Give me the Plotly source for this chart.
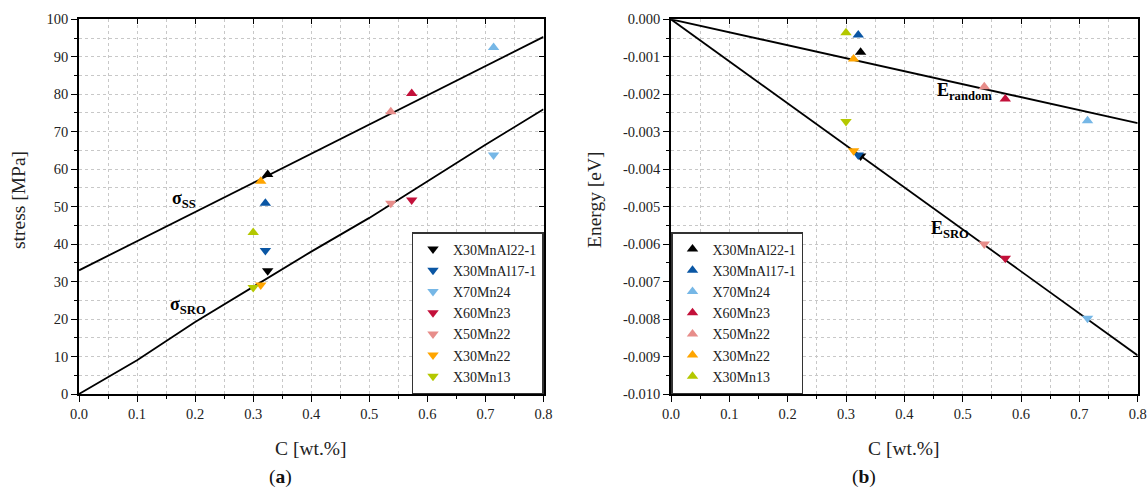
import plotly.graph_objects as go

# ---------------- data ----------------
steels = ["X30MnAl22-1", "X30MnAl17-1", "X70Mn24", "X60Mn23", "X50Mn22", "X30Mn22", "X30Mn13"]
colors = ["#000000", "#0a56a4", "#76b7e6", "#c3103a", "#e78d8a", "#ffa500", "#b4c800"]
carbon = [0.325, 0.321, 0.714, 0.573, 0.537, 0.313, 0.300]

stress_ss = [58.6, 50.9, 92.5, 80.2, 75.3, 56.8, 43.1]
stress_sro = [32.9, 38.3, 63.8, 51.8, 50.9, 29.1, 28.4]

energy_random = [-0.00088, -0.00042, -0.00271, -0.00213, -0.00180, -0.00106, -0.00036]
energy_sro = [-0.00365, -0.00362, -0.00798, -0.00638, -0.00600, -0.00351, -0.00273]

line_ss_x = [0.0, 0.8]
line_ss_y = [33.0, 95.3]
line_sro_x = [0.0, 0.1, 0.2, 0.3, 0.4, 0.5, 0.6, 0.7, 0.8]
line_sro_y = [0.0, 9.0, 19.2, 28.5, 38.0, 47.0, 56.8, 66.5, 76.0]

line_erand_x = [0.0, 0.8]
line_erand_y = [0.0, -0.00277]
line_esro_x = [0.0, 0.8]
line_esro_y = [0.0, -0.00897]

x_ticks = [0.0, 0.1, 0.2, 0.3, 0.4, 0.5, 0.6, 0.7, 0.8]
x_ticktext = ["0.0", "0.1", "0.2", "0.3", "0.4", "0.5", "0.6", "0.7", "0.8"]
stress_ticks = [0, 10, 20, 30, 40, 50, 60, 70, 80, 90, 100]
energy_ticks = [0.0, -0.001, -0.002, -0.003, -0.004, -0.005, -0.006, -0.007, -0.008, -0.009, -0.010]
energy_ticktext = ["0.000", "-0.001", "-0.002", "-0.003", "-0.004", "-0.005",
                   "-0.006", "-0.007", "-0.008", "-0.009", "-0.010"]

FONT = "Liberation Serif, Times New Roman, serif"
MSIZE = 10

W, H = 1148, 489


def px(x):
    return x / W


def py(y):
    return 1 - y / H


fig = go.Figure()

# ---------------- panel (a) ----------------
fig.add_trace(go.Scatter(x=line_ss_x, y=line_ss_y, mode="lines",
                         line=dict(color="black", width=1.8), showlegend=False,
                         hoverinfo="skip", xaxis="x", yaxis="y"))
fig.add_trace(go.Scatter(x=line_sro_x, y=line_sro_y, mode="lines",
                         line=dict(color="black", width=1.8), showlegend=False,
                         hoverinfo="skip", xaxis="x", yaxis="y"))
for i, name in enumerate(steels):
    fig.add_trace(go.Scatter(x=[carbon[i]], y=[stress_ss[i]], mode="markers",
                             marker=dict(symbol="triangle-up", size=MSIZE, color=colors[i]),
                             name=name, showlegend=False, xaxis="x", yaxis="y"))
for i, name in enumerate(steels):
    fig.add_trace(go.Scatter(x=[carbon[i]], y=[stress_sro[i]], mode="markers",
                             marker=dict(symbol="triangle-down", size=MSIZE, color=colors[i]),
                             name=name, showlegend=True, legend="legend", xaxis="x", yaxis="y"))

# ---------------- panel (b) ----------------
fig.add_trace(go.Scatter(x=line_erand_x, y=line_erand_y, mode="lines",
                         line=dict(color="black", width=1.8), showlegend=False,
                         hoverinfo="skip", xaxis="x2", yaxis="y2"))
fig.add_trace(go.Scatter(x=line_esro_x, y=line_esro_y, mode="lines",
                         line=dict(color="black", width=1.8), showlegend=False,
                         hoverinfo="skip", xaxis="x2", yaxis="y2"))
for i, name in enumerate(steels):
    fig.add_trace(go.Scatter(x=[carbon[i]], y=[energy_sro[i]], mode="markers",
                             marker=dict(symbol="triangle-down", size=MSIZE, color=colors[i]),
                             name=name, showlegend=False, xaxis="x2", yaxis="y2"))
for i, name in enumerate(steels):
    fig.add_trace(go.Scatter(x=[carbon[i]], y=[energy_random[i]], mode="markers",
                             marker=dict(symbol="triangle-up", size=MSIZE, color=colors[i]),
                             name=name, showlegend=True, legend="legend2", xaxis="x2", yaxis="y2"))

# invisible traces for mirrored (inward-tick) top/right axes
fig.add_trace(go.Scatter(x=[None], y=[None], xaxis="x3", yaxis="y3", showlegend=False, hoverinfo="skip"))
fig.add_trace(go.Scatter(x=[None], y=[None], xaxis="x4", yaxis="y4", showlegend=False, hoverinfo="skip"))

XL = [px(79), px(543.5)]
XR = [px(671), px(1137.7)]
YD = [py(394), py(19.3)]

GRIDC = "#c8c8c8"
grid = dict(showgrid=True, gridcolor=GRIDC, griddash="dot", gridwidth=1)
tickfont = dict(family=FONT, size=14.5, color="#222")


def xbase(domain, anchor):
    return dict(domain=domain, anchor=anchor, range=[0, 0.8], tickvals=x_ticks, ticktext=x_ticktext,
                ticks="outside", ticklen=6, tickwidth=1.2, tickcolor="black",
                showline=True, linecolor="black", linewidth=1.5, mirror=True,
                tickfont=tickfont, zeroline=False, ticklabeloverflow="allow",
                minor=dict(dtick=0.05, tick0=0, ticks="outside", ticklen=3, tickcolor="black",
                           showgrid=True, gridcolor=GRIDC, griddash="dot"),
                **grid)


layout = dict(
    width=W, height=H, autosize=False, margin=dict(l=0, r=0, t=0, b=0, pad=0, autoexpand=False),
    paper_bgcolor="white", plot_bgcolor="white",
    font=dict(family=FONT, size=14, color="black"),
    xaxis=xbase(XL, "y"),
    xaxis2=xbase(XR, "y2"),
    yaxis=dict(domain=YD, anchor="x", range=[0, 100], tickvals=stress_ticks,
               ticks="outside", ticklen=6, tickwidth=1.2, tickcolor="black",
               showline=True, linecolor="black", linewidth=1.5, mirror=True,
               tickfont=tickfont, zeroline=False, ticklabeloverflow="allow",
               minor=dict(dtick=5, tick0=0, ticks="outside", ticklen=3, tickcolor="black",
                          showgrid=True, gridcolor=GRIDC, griddash="dot"),
               **grid),
    yaxis2=dict(domain=YD, anchor="x2", range=[-0.010, 0.0], tickvals=energy_ticks,
                ticktext=energy_ticktext,
                ticks="outside", ticklen=6, tickwidth=1.2, tickcolor="black",
                showline=True, linecolor="black", linewidth=1.5, mirror=True,
                tickfont=tickfont, zeroline=False, ticklabeloverflow="allow",
                minor=dict(dtick=0.0005, tick0=0, ticks="outside", ticklen=3, tickcolor="black",
                           showgrid=True, gridcolor=GRIDC, griddash="dot"),
                **grid),
    xaxis3=dict(overlaying="x", anchor="y3", side="top", range=[0, 0.8], tickvals=x_ticks,
                ticks="inside", ticklen=5, tickwidth=1.2, tickcolor="black",
                showticklabels=False, showgrid=False, zeroline=False, showline=False),
    yaxis3=dict(overlaying="y", anchor="x3", side="right", range=[0, 100], tickvals=stress_ticks,
                ticks="inside", ticklen=5, tickwidth=1.2, tickcolor="black",
                showticklabels=False, showgrid=False, zeroline=False, showline=False),
    xaxis4=dict(overlaying="x2", anchor="y4", side="top", range=[0, 0.8], tickvals=x_ticks,
                ticks="inside", ticklen=5, tickwidth=1.2, tickcolor="black",
                showticklabels=False, showgrid=False, zeroline=False, showline=False),
    yaxis4=dict(overlaying="y2", anchor="x4", side="right", range=[-0.010, 0.0], tickvals=energy_ticks,
                ticks="inside", ticklen=5, tickwidth=1.2, tickcolor="black",
                showticklabels=False, showgrid=False, zeroline=False, showline=False),
    legend=dict(x=px(543.5), y=py(394), xanchor="right", yanchor="bottom",
                bgcolor="white", bordercolor="#333", borderwidth=1.5,
                font=dict(family=FONT, size=14, color="#222"), tracegroupgap=0),
    legend2=dict(x=px(671), y=py(394), xanchor="left", yanchor="bottom",
                 bgcolor="white", bordercolor="#333", borderwidth=1.5,
                 font=dict(family=FONT, size=14, color="#222"), tracegroupgap=0),
    showlegend=True,
)
fig.update_layout(**layout)

ann = [
    # panel texts
    dict(x=0.157, y=52.0, xref="x", yref="y", text="<b>σ<sub>SS</sub></b>",
         xanchor="left", yanchor="middle", font=dict(size=18)),
    dict(x=0.153, y=23.5, xref="x", yref="y", text="<b>σ<sub>SRO</sub></b>",
         xanchor="left", yanchor="middle", font=dict(size=18)),
    dict(x=0.452, y=-0.00193, xref="x2", yref="y2", text="<b>E<sub>random</sub></b>",
         xanchor="left", yanchor="middle", font=dict(size=18)),
    dict(x=0.443, y=-0.00562, xref="x2", yref="y2", text="<b>E<sub>SRO</sub></b>",
         xanchor="left", yanchor="middle", font=dict(size=18)),
    # axis titles
    dict(x=px(311), y=py(448), xref="paper", yref="paper", text="C [wt.%]",
         xanchor="center", yanchor="middle", font=dict(size=19.5, color="#222")),
    dict(x=px(904), y=py(448), xref="paper", yref="paper", text="C [wt.%]",
         xanchor="center", yanchor="middle", font=dict(size=19.5, color="#222")),
    dict(x=px(18), y=py(200), xref="paper", yref="paper", text="stress [MPa]",
         textangle=-90, xanchor="center", yanchor="middle", font=dict(size=19.5, color="#222")),
    dict(x=px(594), y=py(200), xref="paper", yref="paper", text="Energy [eV]",
         textangle=-90, xanchor="center", yanchor="middle", font=dict(size=19.5, color="#222")),
    # captions
    dict(x=px(280), y=py(477), xref="paper", yref="paper", text="(<b>a</b>)",
         xanchor="center", yanchor="middle", font=dict(size=19.5, color="#111")),
    dict(x=px(864), y=py(477), xref="paper", yref="paper", text="(<b>b</b>)",
         xanchor="center", yanchor="middle", font=dict(size=19.5, color="#111")),
]
for a in ann:
    a["showarrow"] = False
    f = a.get("font", {})
    f.setdefault("family", FONT)
    f.setdefault("color", "black")
    a["font"] = f
fig.update_layout(annotations=ann)

fig.write_html("out.html", config={"responsive": False, "displayModeBar": False})
